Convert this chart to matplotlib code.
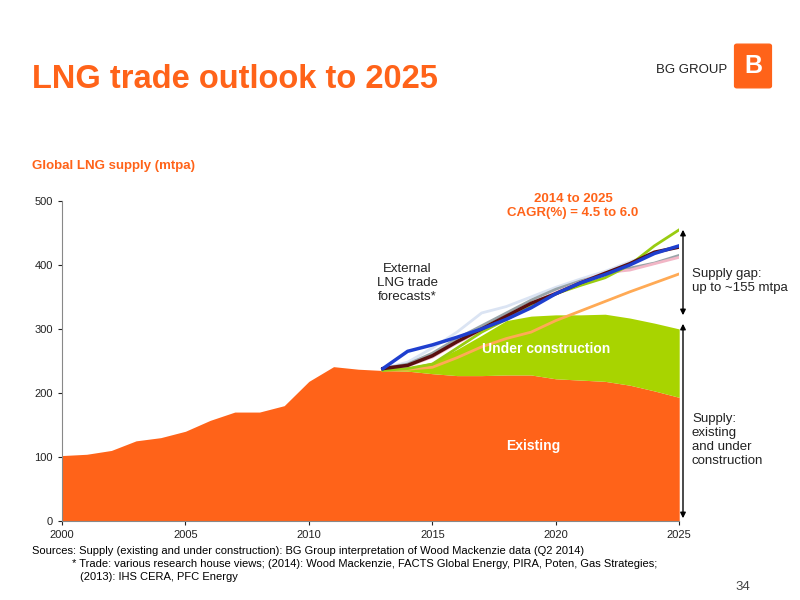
import matplotlib
matplotlib.use("Agg")
import matplotlib.pyplot as plt
from matplotlib.patches import FancyBboxPatch

plt.rcParams['font.family'] = ['Liberation Sans', 'DejaVu Sans']

years = list(range(2000, 2026))
existing = [102,104,110,125,130,140,157,170,170,180,218,241,237,235,234,230,227,227,228,228,222,220,218,212,203,193]
fc_years = list(range(2013, 2026))
total = [235,240,248,268,290,313,320,322,322,323,317,309,300]
forecasts = {
    "#dbe4f3": [238,248,270,295,325,335,350,365,378,390,405,418,428],
    "#98a4a8": [238,245,262,285,305,325,345,362,375,385,395,403,415],
    "#f2b6c6": [238,242,256,278,298,318,340,357,373,388,392,402,412],
    "#ffaa55": [235,237,240,255,272,285,295,313,328,343,358,372,386],
    "#99cc11": [235,238,245,270,295,315,335,355,368,380,400,430,455],
    "#5a0f0f": [238,243,258,280,300,320,340,355,372,387,402,420,428],
    "#1f3fcf": [238,265,275,287,300,315,333,355,372,385,400,418,430],
}
ORANGE = "#ff6319"
GREEN = "#a8d400"

fig = plt.figure(figsize=(8, 6), dpi=100)
ax = fig.add_axes([0.0775, 0.132, 0.7715, 0.533])
ex_fc = existing[13:]
ax.fill_between(years, 0, existing, color=ORANGE, lw=0)
ax.fill_between(fc_years, ex_fc, total, color=GREEN, lw=0)
for c, v in forecasts.items():
    lw = 2.5 if c in ("#1f3fcf", "#5a0f0f") else 2
    ax.plot(fc_years, v, color=c, lw=lw)
ax.set_xlim(2000, 2025)
ax.set_ylim(0, 500)
ax.set_xticks([2000, 2005, 2010, 2015, 2020, 2025])
ax.set_yticks([0, 100, 200, 300, 400, 500])
for s in ["top", "right"]:
    ax.spines[s].set_visible(False)
for s in ["left", "bottom"]:
    ax.spines[s].set_color("#888888")
ax.tick_params(labelsize=8, colors="#222222", length=3)

ax.text(2019.1, 110, "Existing", color="white", fontsize=10, fontweight="bold", ha="center")
ax.text(2019.6, 262, "Under construction", color="white", fontsize=10, fontweight="bold", ha="center")
ax.text(2014, 372, "External\nLNG trade\nforecasts*", fontsize=9.5, ha="center", va="center", color="#222222")
ax.text(2020.7, 492, "2014 to 2025\nCAGR(%) = 4.5 to 6.0", color=ORANGE, fontsize=9.5,
        fontweight="bold", ha="center", va="center", linespacing=1.3)

fig.add_artist(plt.Annotation("", xy=(683, 600-227), xytext=(683, 600-318), xycoords="figure pixels",
               arrowprops=dict(arrowstyle="<|-|>", color="black", lw=1, mutation_scale=8)))
fig.add_artist(plt.Annotation("", xy=(683, 600-321), xytext=(683, 600-521), xycoords="figure pixels",
               arrowprops=dict(arrowstyle="<|-|>", color="black", lw=1, mutation_scale=8)))
fig.text(692/800, 1-281/600, "Supply gap:\nup to ~155 mtpa", fontsize=9.5, va="center", color="#222222")
fig.text(692/800, 1-440/600, "Supply:\nexisting\nand under\nconstruction", fontsize=9.5, va="center", color="#222222")

fig.text(32/800, 1-80/600, "LNG trade outlook to 2025", color=ORANGE, fontsize=23.5, fontweight="bold", va="center")
fig.text(32/800, 1-166/600, "Global LNG supply (mtpa)", color=ORANGE, fontsize=9.5, fontweight="bold", va="center")
fig.text(727/800, 1-70/600, "BG GROUP", fontsize=9.5, ha="right", va="center", color="#222222")
fig.patches.append(FancyBboxPatch((737/800, 1-86/600), 32/800, 40/600, boxstyle="round,pad=0.003",
                                  transform=fig.transFigure, color=ORANGE))
fig.text(753/800, 1-66/600, "B", color="white", fontsize=18, fontweight="bold", ha="center", va="center")

fig.text(32/800, 1-551/600, "Sources: Supply (existing and under construction): BG Group interpretation of Wood Mackenzie data (Q2 2014)",
         fontsize=8, va="center")
fig.text(72/800, 1-564/600, "* Trade: various research house views; (2014): Wood Mackenzie, FACTS Global Energy, PIRA, Poten, Gas Strategies;",
         fontsize=8, va="center")
fig.text(80/800, 1-577/600, "(2013): IHS CERA, PFC Energy", fontsize=8, va="center")
fig.text(750/800, 1-587/600, "34", fontsize=9.5, ha="right", va="center", color="#444444")

fig.savefig("out.png", dpi=100)
